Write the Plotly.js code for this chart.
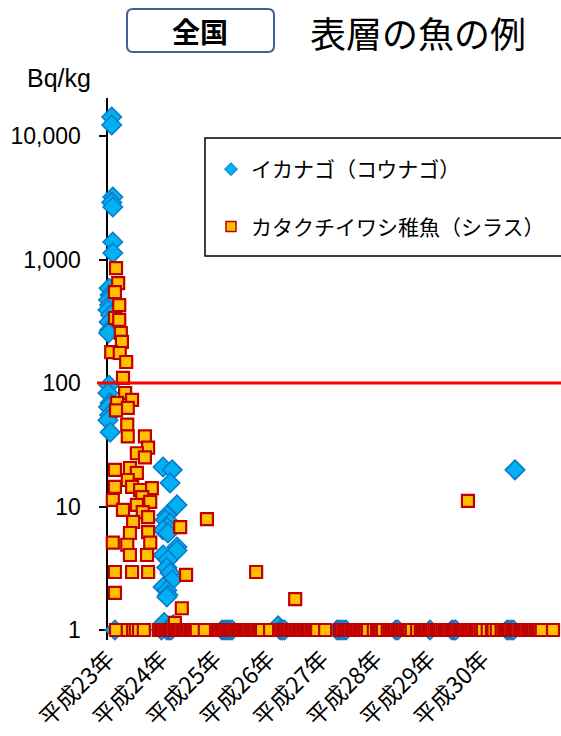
<!DOCTYPE html>
<html>
<head>
<meta charset="utf-8">
<script src="https://cdn.plot.ly/plotly-3.0.1.min.js"></script>
<style>html,body{margin:0;padding:0;background:#fff;}#chart{width:561px;height:736px;}</style>
</head>
<body>
<div id="chart"></div>
<script>
// ---- Data (x = years since start of 平成23年, y = Bq/kg; ND plotted at 1) ----
const yearTicks = [0, 1, 2, 3, 4, 5, 6, 7];
const yearLabels = ['平成23年', '平成24年', '平成25年', '平成26年', '平成27年', '平成28年', '平成29年', '平成30年'];
const yTickVals = [1, 10, 100, 1000, 10000];
const yTickText = ['1', '10', '100', '1,000', '10,000'];
const limitValue = 100;

const ikanagoName = 'イカナゴ（コウナゴ）';
const ikanagoX = [
  0.07, 0.07, 0.09, 0.07, 0.09, 0.09, 0.09,
  0.02, 0.04, 0.01, 0.03, 0.00, 0.05, 0.02, 0.03, 0.01,
  0.02, 0.00, 0.04, 0.01, 0.03, 0.00, 0.04,
  1.03, 1.20, 1.16, 1.29, 1.10, 1.07, 1.16, 1.10, 1.03, 1.12, 1.29, 1.29, 1.03, 1.12, 1.10, 1.16, 1.20, 1.03, 1.10, 1.12, 1.10,
  7.61,
  0.13, 1.00, 1.05, 1.10, 1.14, 1.18, 1.22, 2.13, 2.17, 2.21, 2.24, 2.28, 2.32, 3.18, 3.22, 3.26, 3.30,
  4.28, 4.32, 4.36, 4.41, 4.45, 5.38, 5.42, 6.02, 6.43, 6.47, 6.50, 7.46, 7.50, 7.55, 7.58
];
const ikanagoY = [
  14260, 12270, 3210, 2900, 2660, 1385, 1130,
  586, 515, 470, 428, 390, 356, 312, 268, 254,
  96, 83, 69, 64, 55, 50, 40,
  20.9, 19.8, 15.5, 10.3, 8.5, 7.8, 7.35, 6.8, 6.45, 6.1, 4.7, 4.4, 4.05, 3.7, 3.2, 2.9, 2.54, 2.23, 2.1, 1.92, 1.85,
  19.8,
  1, 1, 1.15, 1, 1, 1, 1.1, 1, 1, 1, 1, 1, 1, 1.08, 1, 1, 1,
  1, 1, 1, 1, 1, 1, 1, 1, 1, 1, 1, 1, 1, 1, 1
];

const shirasuName = 'カタクチイワシ稚魚（シラス）';
const shirasuX = [
  0.15, 0.19, 0.13, 0.21, 0.13, 0.21, 0.24, 0.26, 0.06, 0.22, 0.34, 0.28,
  0.32, 0.45, 0.17, 0.37, 0.15, 0.36, 0.37, 0.69, 0.75, 0.54, 0.69,
  0.13, 0.41, 0.54, 0.37, 0.13, 0.45, 0.82, 0.60, 0.64, 0.09, 0.79, 0.54,
  0.28, 0.65, 0.75, 0.47, 0.41, 0.75, 0.09, 0.79, 0.36, 0.41, 0.73,
  0.13, 0.45, 0.75, 0.13,
  1.35, 1.46, 1.38, 1.25, 1.85, 2.77, 3.50, 6.73,
  // ND (plotted at 1)
  0.15, 0.37, 0.47, 0.52, 0.58, 0.67,
  0.95, 0.99, 1.03, 1.07, 1.10, 1.14, 1.18, 1.21, 1.25, 1.29, 1.33, 1.36, 1.40, 1.44, 1.48, 1.51, 1.55, 1.59, 1.63, 1.66,
  1.81, 2.02,
  2.06, 2.09, 2.13, 2.17, 2.21, 2.24, 2.28, 2.32, 2.36, 2.39, 2.43, 2.47, 2.51, 2.54, 2.58, 2.62, 2.66, 2.69, 2.73, 2.77, 2.81, 2.84, 2.88,
  3.03,
  3.20, 3.23, 3.27, 3.31, 3.35, 3.38, 3.42, 3.46, 3.50, 3.53, 3.57, 3.61, 3.65, 3.68, 3.72, 3.76, 3.80, 3.83, 3.87, 3.91,
  4.06,
  4.34, 4.37, 4.41, 4.45, 4.49, 4.52, 4.56, 4.60, 4.64, 4.67, 4.71, 4.75, 4.79, 4.82, 4.86,
  4.97, 5.03, 5.07, 5.10, 5.14, 5.23,
  5.27, 5.31, 5.35, 5.38, 5.42, 5.46, 5.50, 5.53, 5.57, 5.61, 5.64, 5.68,
  5.78,
  5.85, 5.89, 5.93, 5.96, 6.00, 6.04, 6.07, 6.11, 6.15, 6.19, 6.22, 6.26, 6.30, 6.34, 6.37, 6.41,
  6.45, 6.49, 6.52, 6.56, 6.60, 6.64, 6.67, 6.71, 6.75, 6.79, 6.82, 6.86, 6.90, 6.93, 6.97, 7.01,
  7.10, 7.18, 7.21, 7.27,
  7.36, 7.40, 7.44, 7.48, 7.51, 7.55, 7.59, 7.63, 7.66, 7.70, 7.74, 7.78, 7.81, 7.85, 7.89, 7.93, 7.96, 8.00, 8.04, 8.07, 8.11,
  8.32
];
const shirasuY = [
  853, 645, 545, 428, 336, 324, 254, 215, 178, 175, 148, 110,
  83, 73, 69, 63, 60, 46, 37, 37, 30, 27, 25,
  19.8, 20.5, 18.7, 16.4, 14.4, 14.4, 14.1, 13.6, 11.9, 11.3, 10.9, 10.3,
  9.4, 9.0, 8.2, 7.5, 6.1, 6.2, 5.1, 5.1, 4.9, 4.05, 4.05,
  2.95, 2.95, 2.95, 2.0,
  6.8, 2.8, 1.5, 1.14, 7.9, 2.95, 1.78, 11.1,
  1, 1, 1, 1, 1, 1,
  1, 1, 1, 1, 1, 1, 1, 1, 1, 1, 1, 1, 1, 1, 1, 1, 1, 1, 1, 1,
  1, 1,
  1, 1, 1, 1, 1, 1, 1, 1, 1, 1, 1, 1, 1, 1, 1, 1, 1, 1, 1, 1, 1, 1, 1,
  1,
  1, 1, 1, 1, 1, 1, 1, 1, 1, 1, 1, 1, 1, 1, 1, 1, 1, 1, 1, 1,
  1,
  1, 1, 1, 1, 1, 1, 1, 1, 1, 1, 1, 1, 1, 1, 1,
  1, 1, 1, 1, 1, 1,
  1, 1, 1, 1, 1, 1, 1, 1, 1, 1, 1, 1,
  1,
  1, 1, 1, 1, 1, 1, 1, 1, 1, 1, 1, 1, 1, 1, 1, 1,
  1, 1, 1, 1, 1, 1, 1, 1, 1, 1, 1, 1, 1, 1, 1, 1,
  1, 1, 1, 1,
  1, 1, 1, 1, 1, 1, 1, 1, 1, 1, 1, 1, 1, 1, 1, 1, 1, 1, 1, 1, 1,
  1
];

// ---- Layout geometry ----
const W = 561, H = 736;
const M = {l: 108, r: 0, t: 98, b: 96};
const PW = W - M.l - M.r, PH = H - M.t - M.b;
const px = x => (x - M.l) / PW;        // pixel -> paper x
const py = y => (H - M.b - y) / PH;    // pixel -> paper y

const blueFill = '#00B0F0', blueLine = '#0A78C8';
const orangeFill = '#FFC000', redLine = '#C00000';
const jp = '"Noto Sans CJK JP", "Noto Sans", sans-serif';
const arial = '"Liberation Sans", Arial, sans-serif';

const traces = [
  {x: ikanagoX, y: ikanagoY, type: 'scatter', mode: 'markers', showlegend: false, cliponaxis: false,
   marker: {symbol: 'diamond', size: 15, color: blueFill, line: {color: blueLine, width: 1.5}}},
  {x: shirasuX, y: shirasuY, type: 'scatter', mode: 'markers', showlegend: false, cliponaxis: false,
   marker: {symbol: 'square', size: 12, color: orangeFill, line: {color: redLine, width: 2.2}}},
  {x: [null], y: [null], type: 'scatter', mode: 'markers', name: ikanagoName, legendgroup: 'a',
   marker: {symbol: 'diamond', size: 10, color: blueFill, line: {color: blueLine, width: 1}}},
  {x: [null], y: [null], type: 'scatter', mode: 'markers', name: shirasuName, legendgroup: 'b',
   marker: {symbol: 'square', size: 10, color: orangeFill, line: {color: redLine, width: 1.5}}}
];

// rounded frame for the "全国" box
const bx0 = px(127), bx1 = px(274), byt = py(9), byb = py(52);
const rdx = 6 / PW, rdy = 6 / PH;
const boxPath = `M ${bx0 + rdx},${byt} L ${bx1 - rdx},${byt} Q ${bx1},${byt} ${bx1},${byt - rdy} ` +
  `L ${bx1},${byb + rdy} Q ${bx1},${byb} ${bx1 - rdx},${byb} L ${bx0 + rdx},${byb} ` +
  `Q ${bx0},${byb} ${bx0},${byb + rdy} L ${bx0},${byt - rdy} Q ${bx0},${byt} ${bx0 + rdx},${byt} Z`;

const layout = {
  width: W, height: H,
  margin: M,
  paper_bgcolor: '#fff', plot_bgcolor: '#fff',
  showlegend: true,
  xaxis: {
    range: [0, 8.47], showgrid: false, zeroline: false, showline: false,
    tickmode: 'array', tickvals: yearTicks, ticktext: yearLabels,
    tickangle: -45, ticks: '', tickfont: {family: jp, size: 23, color: '#000'}
  },
  yaxis: {
    type: 'log', range: [-0.081, 4.308], showgrid: false, zeroline: false,
    showline: true, linecolor: '#000', linewidth: 2.5, layer: 'below traces',
    tickmode: 'array', tickvals: yTickVals, ticktext: yTickText,
    ticks: 'outside', ticklen: 7, tickwidth: 2, tickcolor: '#000',
    ticklabelstandoff: 13,
    tickfont: {family: arial, size: 23, color: '#000'}
  },
  legend: {
    x: px(211), y: py(149), xanchor: 'left', yanchor: 'top',
    bgcolor: 'rgba(0,0,0,0)', borderwidth: 0,
    traceorder: 'grouped', tracegroupgap: 27,
    font: {family: jp, size: 21, color: '#000'}
  },
  shapes: [
    {type: 'line', xref: 'paper', yref: 'y', x0: px(97), x1: 1, y0: limitValue, y1: limitValue,
     line: {color: '#FF0000', width: 3}, layer: 'above'},
    {type: 'rect', xref: 'paper', yref: 'paper', x0: px(205), x1: 1.3, y0: py(256), y1: py(138),
     line: {color: '#000', width: 1.5}, fillcolor: 'rgba(255,255,255,0)', layer: 'above'},
    {type: 'path', xref: 'paper', yref: 'paper', path: boxPath,
     line: {color: '#3F6397', width: 2}, fillcolor: 'rgba(255,255,255,0)'}
  ],
  annotations: [
    {text: '全国', xref: 'paper', yref: 'paper', x: px(200), y: py(31), xanchor: 'center', yanchor: 'middle',
     showarrow: false, font: {family: jp, size: 28, color: '#000', weight: 700}},
    {text: '表層の魚の例', xref: 'paper', yref: 'paper', x: px(418), y: py(32), xanchor: 'center', yanchor: 'middle',
     showarrow: false, font: {family: jp, size: 36, color: '#000'}},
    {text: 'Bq/kg', xref: 'paper', yref: 'paper', x: px(59), y: py(78), xanchor: 'center', yanchor: 'middle',
     showarrow: false, font: {family: arial, size: 25, color: '#000'}}
  ]
};

Plotly.newPlot('chart', traces, layout, {displayModeBar: false, staticPlot: true});
</script>
</body>
</html>
